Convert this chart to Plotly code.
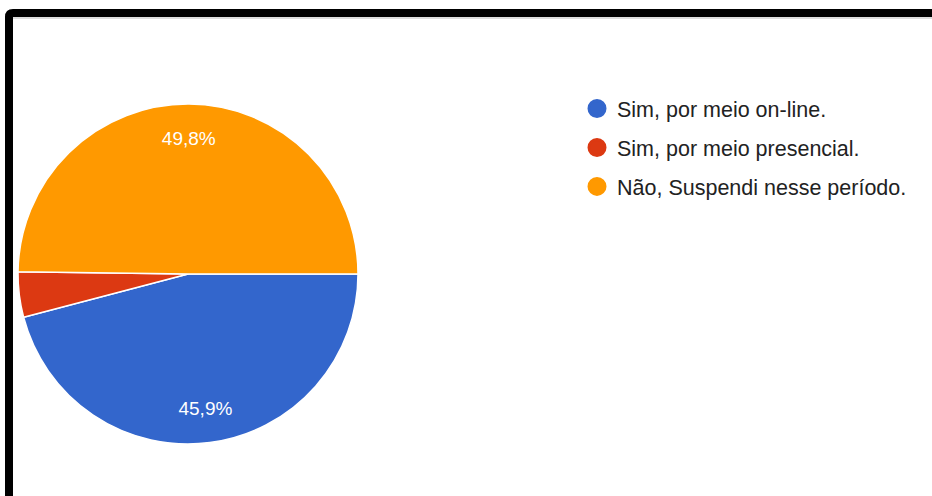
import plotly.graph_objects as go

# Survey answers and their shares (%)
categories = ["Sim, por meio on-line.", "Sim, por meio presencial.", "Não, Suspendi nesse período."]
shares = [45.9, 4.3, 49.8]
colors = ["#3366CC", "#DC3912", "#FF9900"]
# slices too thin to carry a label stay blank
show_label = [True, False, True]

W, H = 932, 496
pie_domain = dict(x=[(188 - 170) / W, (188 + 170) / W], y=[1 - 444 / H, 1 - 104 / H])

fig = go.Figure()

# the pie itself
fig.add_trace(go.Pie(
    labels=categories,
    values=shares,
    sort=False,
    direction="clockwise",
    rotation=90,
    marker=dict(colors=colors, line=dict(color="white", width=1.5)),
    textinfo="none",
    hoverinfo="label+percent",
    showlegend=False,
    domain=pie_domain,
))

# transparent ring on top that places the percentages near the rim
fig.add_trace(go.Pie(
    labels=categories,
    values=shares,
    sort=False,
    direction="clockwise",
    rotation=90,
    hole=0.6,
    marker=dict(colors=["rgba(0,0,0,0)"] * len(categories), line=dict(width=0)),
    texttemplate=["%{percent:.1%}" if s else "" for s in show_label],
    textposition="inside",
    insidetextorientation="horizontal",
    textfont=dict(family="Liberation Sans, Arial, sans-serif", size=19, color="white"),
    hoverinfo="skip",
    showlegend=False,
    domain=pie_domain,
))

# legend entries with round markers
for name, col in zip(categories, colors):
    fig.add_trace(go.Scatter(
        x=[None], y=[None], mode="markers", name=name, legendgroup=name,
        marker=dict(symbol="circle", size=16, color=col, line=dict(color=col, width=3)),
    ))

fig.update_layout(
    width=W, height=H,
    margin=dict(l=0, r=0, t=0, b=0),
    paper_bgcolor="white",
    plot_bgcolor="white",
    separators=", ",
    xaxis=dict(visible=False),
    yaxis=dict(visible=False),
    legend=dict(
        x=577 / W, y=1 - 88 / H, xanchor="left", yanchor="top",
        font=dict(family="Liberation Sans, Arial, sans-serif", size=21.5, color="#222222"),
        traceorder="grouped",
        tracegroupgap=8,
        bgcolor="rgba(0,0,0,0)",
    ),
    shapes=[
        # frame around the chart, open to the right and bottom
        dict(type="path", xref="paper", yref="paper",
             path=f"M {9 / W},{-0.1} L {9 / W},{1 - 17 / H} Q {9 / W},{1 - 13 / H} {13 / W},{1 - 13 / H} L 1.1,{1 - 13 / H}",
             line=dict(color="black", width=8)),
        dict(type="line", xref="paper", yref="paper",
             x0=13 / W, x1=1.1, y0=1 - 18 / H, y1=1 - 18 / H,
             line=dict(color="#BBBBBB", width=1)),
    ],
)

fig.write_html("out.html")
